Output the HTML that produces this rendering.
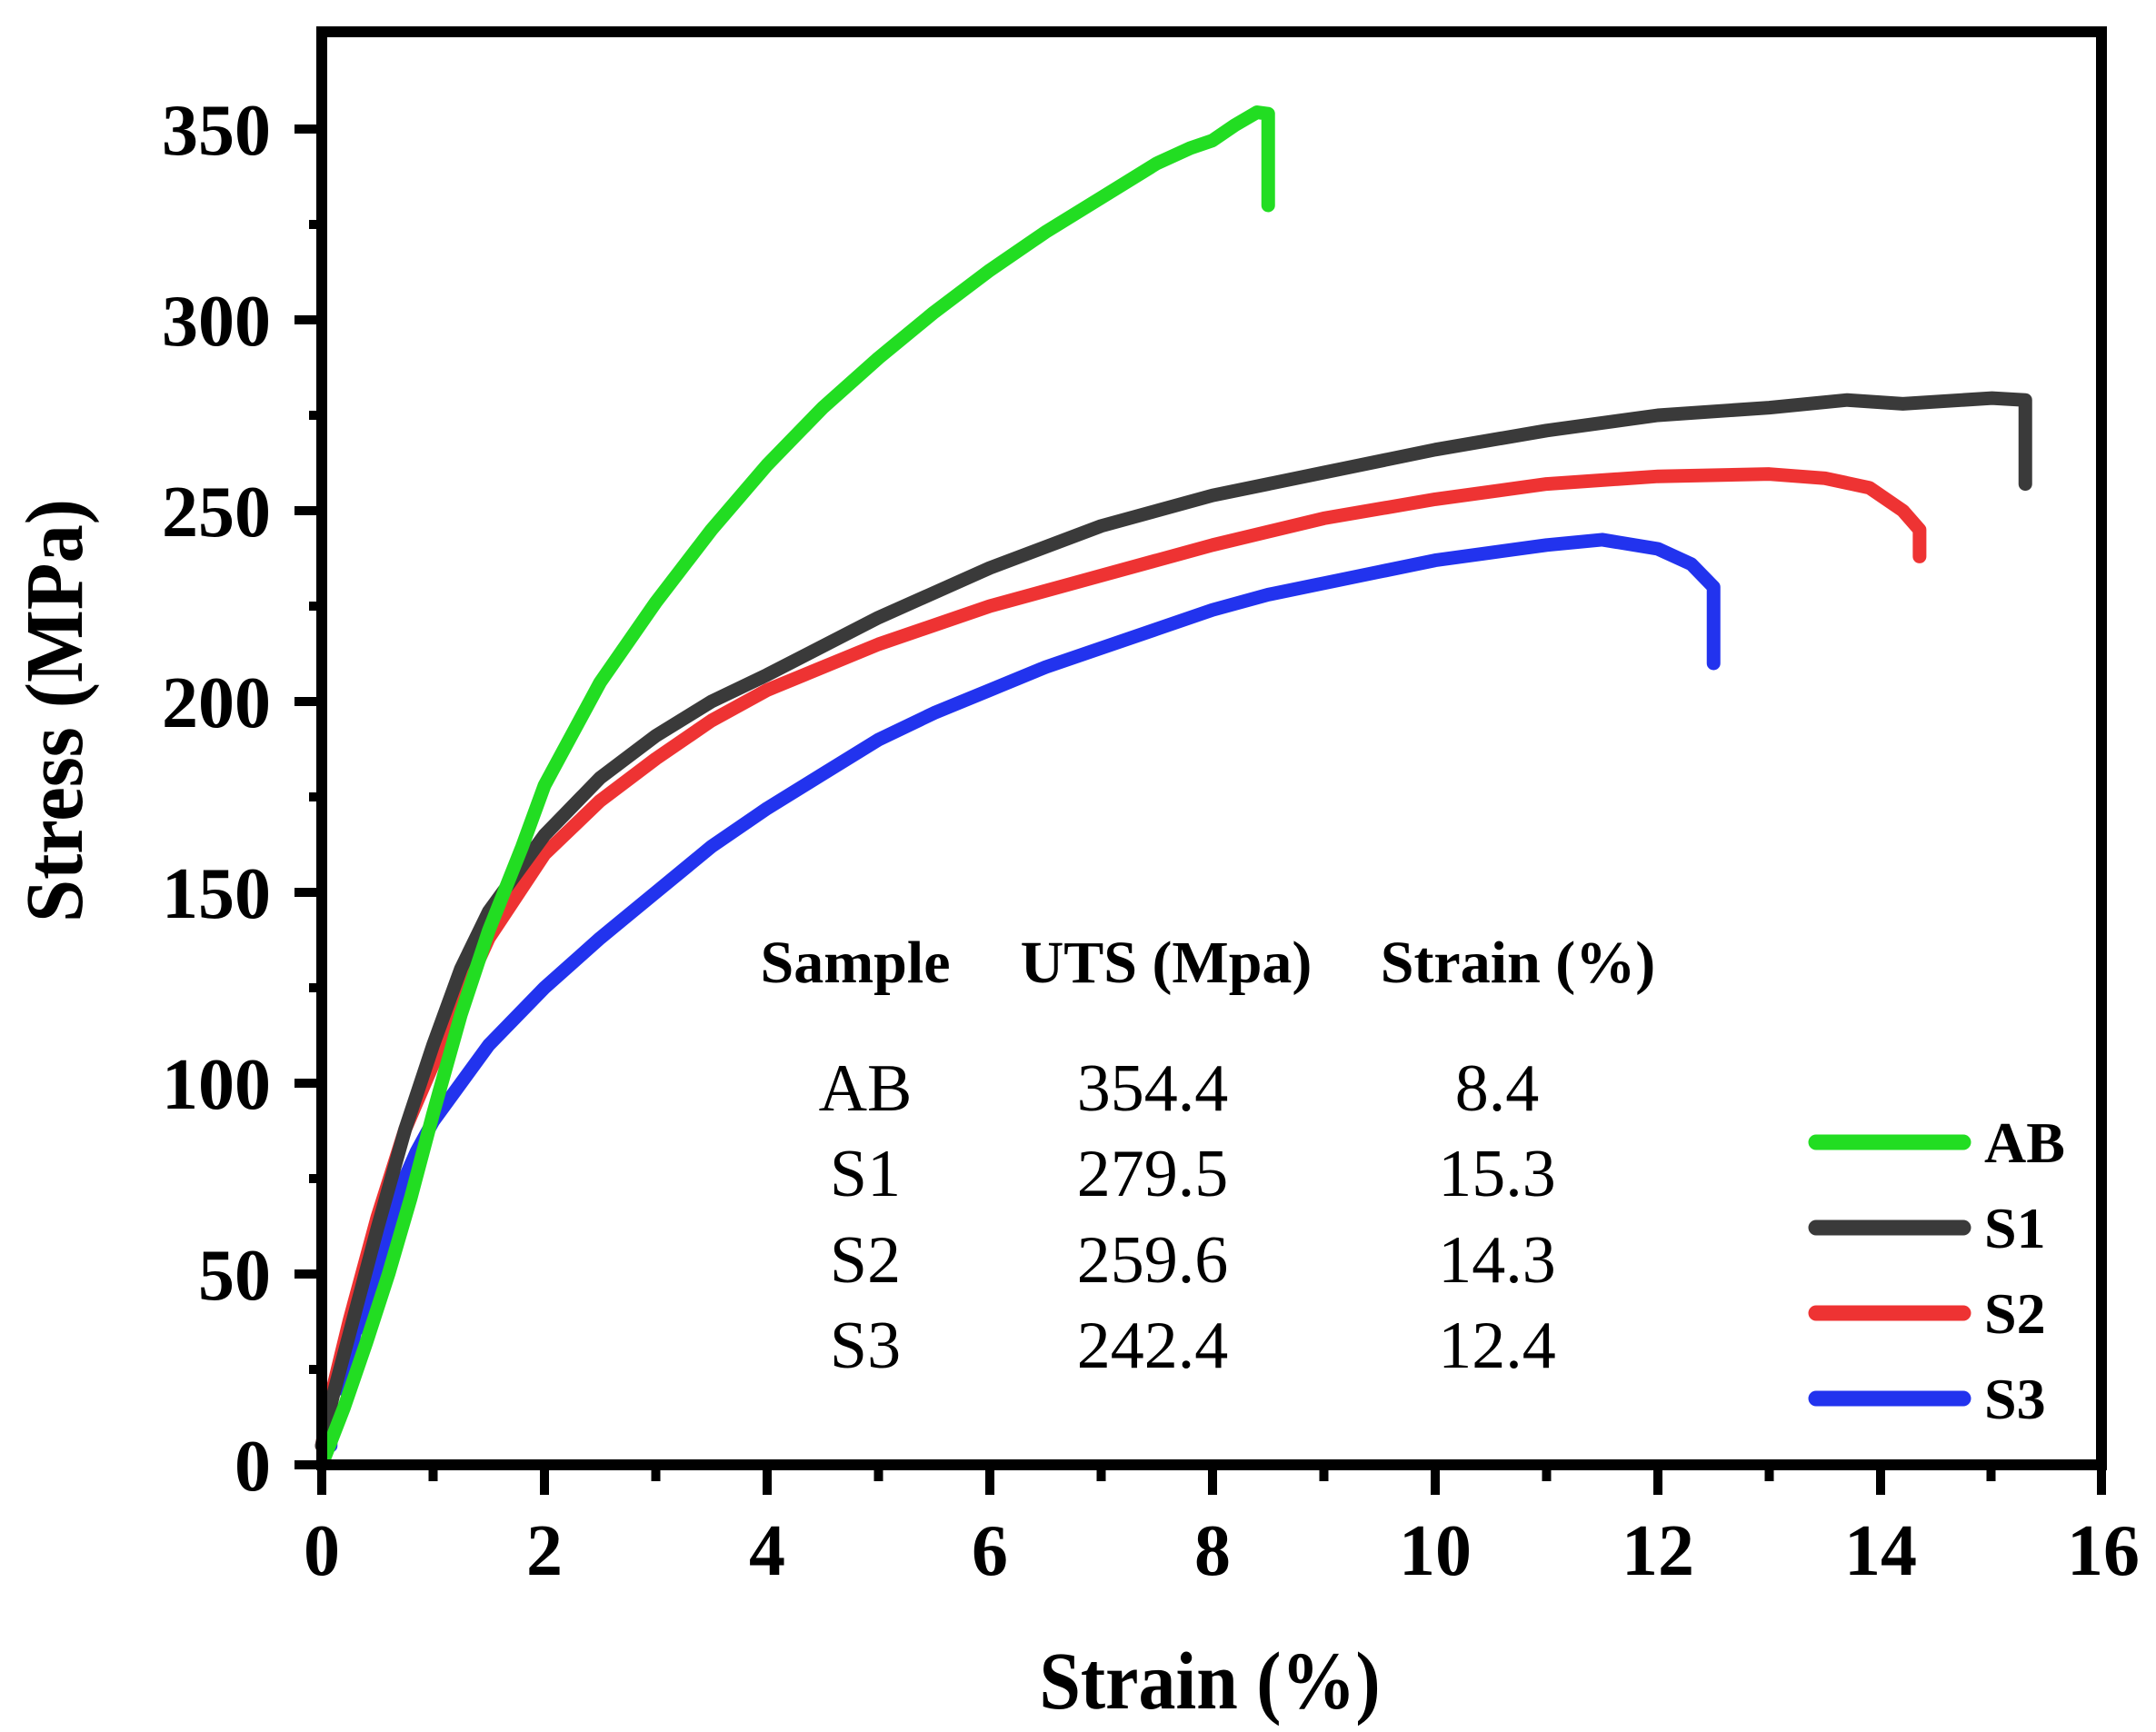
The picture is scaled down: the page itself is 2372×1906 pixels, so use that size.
<!DOCTYPE html>
<html><head><meta charset="utf-8"><style>
html,body{margin:0;padding:0;background:#fff}
svg{display:block}
text{font-family:"Liberation Serif",serif}
</style></head><body>
<svg width="2372" height="1906" viewBox="0 0 2372 1906" xmlns="http://www.w3.org/2000/svg">
<rect width="2372" height="1906" fill="#fff"/>
<g transform="translate(354,1612) scale(122.5,-4.2)" fill="none" stroke-linejoin="round" stroke-linecap="round">
<polyline vector-effect="non-scaling-stroke" stroke="#2233ee" stroke-width="15" points="0,0 0.05,5 0.08,5 0.08,20 0.2,20 0.2,22 0.3,35 0.4,38 0.5,52 0.6,60 0.7,72 0.85,82 1,90 1.25,100 1.5,110 2,125 2.5,138 3,150 3.5,162 4,172 4.5,181 5,190 5.5,197 6,203 6.5,209 7,214 7.5,219 8,224 8.5,228 9,231 9.5,234 10,237 10.5,239 11,241 11.5,242.4 12,240 12.3,236 12.5,230 12.5,210"/>
<polyline vector-effect="non-scaling-stroke" stroke="#ee3333" stroke-width="15" points="0,5 0.1,20 0.25,38 0.5,65 0.75,88 1,105 1.25,122 1.5,138 2,160 2.5,174 3,185 3.5,195 4,203 4.5,209 5,215 6,225 7,233 8,241 9,248 10,253 11,257 12,259 13,259.6 13.5,258.5 13.9,256 14.2,250 14.35,245 14.35,238"/>
<polyline vector-effect="non-scaling-stroke" stroke="#3a3a3a" stroke-width="15" points="0,5 0.1,18 0.3,40 0.5,62 0.75,88 1,110 1.25,130 1.5,145 2,165 2.5,180 3,191 3.5,200 4,207 5,222 6,235 7,246 8,254 9,260 10,266 11,271 12,275 13,277 13.7,279 14.2,278 15,279.5 15.3,279 15.3,257"/>
<polyline vector-effect="non-scaling-stroke" stroke="#22dd22" stroke-width="15" points="0,0 0.2,15 0.4,32 0.6,50 0.8,70 1,92 1.25,118 1.5,140 1.8,162 2,178 2.5,205 3,226 3.5,245 4,262 4.5,277 5,290 5.5,302 6,313 6.5,323 7,332 7.5,341 7.8,345 8,347 8.2,351 8.4,354.4 8.5,354 8.5,330"/>
</g>
<rect x="354" y="35" width="1958" height="1577" fill="none" stroke="#000" stroke-width="12"/>
<g stroke="#000" stroke-width="10">
<line x1="324" y1="1612" x2="354" y2="1612"/><line x1="324" y1="1402" x2="354" y2="1402"/><line x1="324" y1="1192" x2="354" y2="1192"/><line x1="324" y1="982" x2="354" y2="982"/><line x1="324" y1="772" x2="354" y2="772"/><line x1="324" y1="562" x2="354" y2="562"/><line x1="324" y1="352" x2="354" y2="352"/><line x1="324" y1="142" x2="354" y2="142"/>
<line x1="340" y1="1507" x2="354" y2="1507"/><line x1="340" y1="1297" x2="354" y2="1297"/><line x1="340" y1="1087" x2="354" y2="1087"/><line x1="340" y1="877" x2="354" y2="877"/><line x1="340" y1="667" x2="354" y2="667"/><line x1="340" y1="457" x2="354" y2="457"/><line x1="340" y1="247" x2="354" y2="247"/>
<line x1="354" y1="1612" x2="354" y2="1645"/><line x1="599" y1="1612" x2="599" y2="1645"/><line x1="844" y1="1612" x2="844" y2="1645"/><line x1="1089" y1="1612" x2="1089" y2="1645"/><line x1="1334" y1="1612" x2="1334" y2="1645"/><line x1="1579" y1="1612" x2="1579" y2="1645"/><line x1="1824" y1="1612" x2="1824" y2="1645"/><line x1="2069" y1="1612" x2="2069" y2="1645"/><line x1="2312" y1="1612" x2="2312" y2="1645"/>
<line x1="476.5" y1="1612" x2="476.5" y2="1630"/><line x1="721.5" y1="1612" x2="721.5" y2="1630"/><line x1="966.5" y1="1612" x2="966.5" y2="1630"/><line x1="1211.5" y1="1612" x2="1211.5" y2="1630"/><line x1="1456.5" y1="1612" x2="1456.5" y2="1630"/><line x1="1701.5" y1="1612" x2="1701.5" y2="1630"/><line x1="1946.5" y1="1612" x2="1946.5" y2="1630"/><line x1="2190.5" y1="1612" x2="2190.5" y2="1630"/>
</g>
<g font-size="80" font-weight="bold" text-anchor="end">
<text x="298" y="1640">0</text><text x="298" y="1430">50</text><text x="298" y="1220">100</text><text x="298" y="1010">150</text><text x="298" y="800">200</text><text x="298" y="590">250</text><text x="298" y="380">300</text><text x="298" y="170">350</text>
</g>
<g font-size="80" font-weight="bold" text-anchor="middle">
<text x="354" y="1733">0</text><text x="599" y="1733">2</text><text x="844" y="1733">4</text><text x="1089" y="1733">6</text><text x="1334" y="1733">8</text><text x="1579" y="1733">10</text><text x="1824" y="1733">12</text><text x="2069" y="1733">14</text><text x="2314" y="1733">16</text>
</g>
<text transform="translate(1331,1880) scale(0.91,1)" font-size="90" font-weight="bold" text-anchor="middle">Strain (%)</text>
<text transform="translate(90,782) rotate(-90) scale(0.94,1)" font-size="90" font-weight="bold" text-anchor="middle">Stress (MPa)</text>
<g font-size="66" font-weight="bold" text-anchor="middle">
<text x="941" y="1081">Sample</text><text x="1283" y="1081">UTS (Mpa)</text><text x="1670" y="1081">Strain (%)</text>
</g>
<g font-size="74" text-anchor="middle">
<text x="952" y="1222">AB</text><text x="1268" y="1222">354.4</text><text x="1647" y="1222">8.4</text>
<text x="952" y="1316">S1</text><text x="1268" y="1316">279.5</text><text x="1647" y="1316">15.3</text>
<text x="952" y="1411">S2</text><text x="1268" y="1411">259.6</text><text x="1647" y="1411">14.3</text>
<text x="952" y="1505">S3</text><text x="1268" y="1505">242.4</text><text x="1647" y="1505">12.4</text>
</g>
<g stroke-width="17" stroke-linecap="round">
<line x1="1998" y1="1257" x2="2160" y2="1257" stroke="#22dd22"/>
<line x1="1998" y1="1351" x2="2160" y2="1351" stroke="#3a3a3a"/>
<line x1="1998" y1="1445" x2="2160" y2="1445" stroke="#ee3333"/>
<line x1="1998" y1="1539" x2="2160" y2="1539" stroke="#2233ee"/>
</g>
<g font-size="64" font-weight="bold">
<text x="2183" y="1279">AB</text><text x="2183" y="1373">S1</text><text x="2183" y="1467">S2</text><text x="2183" y="1561">S3</text>
</g>
</svg>
</body></html>
